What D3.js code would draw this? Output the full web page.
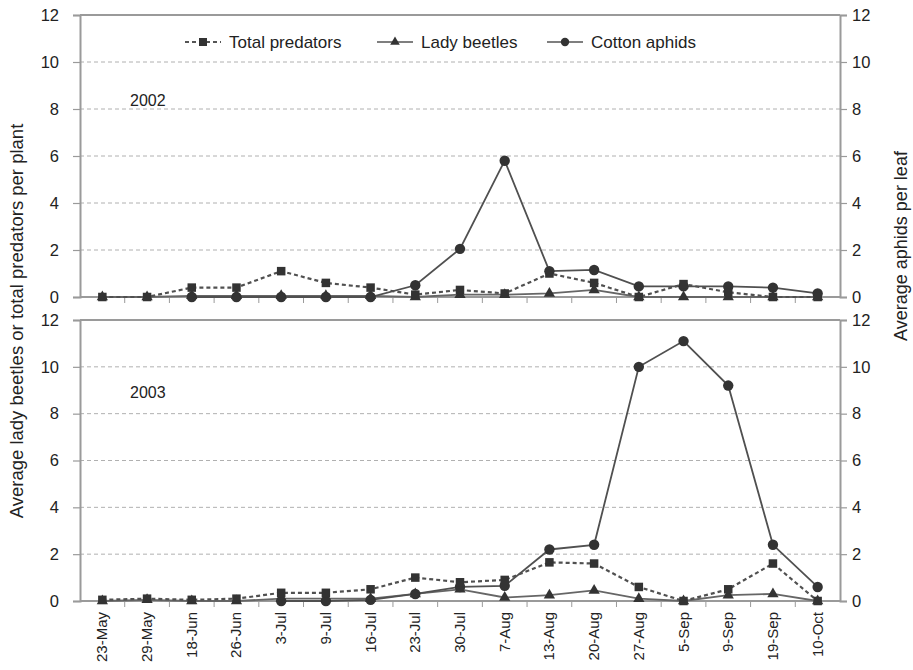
<!DOCTYPE html>
<html><head><meta charset="utf-8">
<script src="https://cdn.jsdelivr.net/npm/d3@7"></script>
<style>
body{margin:0;background:#fff;}
svg text{font-family:"Liberation Sans",Arial,sans-serif;fill:#222;}
</style></head>
<body><svg id="c" width="913" height="670"></svg>
<script>
const categories = ["23-May","29-May","18-Jun","26-Jun","3-Jul","9-Jul","16-Jul","23-Jul","30-Jul","7-Aug","13-Aug","20-Aug","27-Aug","5-Sep","9-Sep","19-Sep","10-Oct"];
const yTicks = [0,2,4,6,8,10,12];
const seriesNames = ["Total predators","Lady beetles","Cotton aphids"];
const predators2002 = [0,0,0.4,0.4,1.1,0.6,0.4,0.1,0.3,0.15,1.0,0.6,0,0.55,0.2,0,0];
const beetles2002   = [0,0,0.05,0.05,0.05,0.05,0.05,0,0.1,0.1,0.15,0.3,0,0,0,0,0];
const aphids2002    = [null,null,0,0,0,0,0,0.5,2.05,5.8,1.1,1.15,0.45,0.45,0.45,0.4,0.15];
const predators2003 = [0.05,0.1,0.05,0.1,0.35,0.35,0.5,1.0,0.8,0.9,1.65,1.6,0.6,0,0.5,1.6,0];
const beetles2003   = [0,0.05,0,0,0.1,0.1,0.1,0.3,0.5,0.15,0.25,0.45,0.1,0,0.25,0.3,0];
const aphids2003    = [null,null,null,null,0,0,0.05,0.3,0.6,0.65,2.2,2.4,10.0,11.1,9.2,2.4,0.6];

const svg = d3.select("#c");
const X0 = 80, X1 = 840;
const x = d3.scalePoint().domain(categories).range([X0, X1]).padding(0.5);
const step = x.step();
const axisCol = "#9a9a9a";

const panels = [
  {label:"2002", top:15, bottom:297, labelY:106, pred:predators2002, beet:beetles2002, aph:aphids2002},
  {label:"2003", top:320, bottom:601, labelY:398, pred:predators2003, beet:beetles2003, aph:aphids2003}
];

function markerSquare(g, px, py, s){ g.append("rect").attr("x",px-s/2).attr("y",py-s/2).attr("width",s).attr("height",s).attr("fill","#333"); }
function markerTri(g, px, py, s){ g.append("path").attr("d",d3.symbol(d3.symbolTriangle, s).call(null)).attr("transform",`translate(${px},${py})`).attr("fill","#333"); }
function markerCircle(g, px, py, r){ g.append("circle").attr("cx",px).attr("cy",py).attr("r",r).attr("fill","#333"); }

panels.forEach(p => {
  const y = d3.scaleLinear().domain([0,12]).range([p.bottom, p.top]);
  const g = svg.append("g");
  g.selectAll(".grid").data(yTicks.filter(t=>t>0&&t<12)).enter().append("line")
    .attr("x1",X0).attr("x2",X1).attr("y1",d=>y(d)).attr("y2",d=>y(d))
    .attr("stroke","#b0b0b0").attr("stroke-width",1).attr("stroke-dasharray","4,3");
  g.append("line").attr("x1",X0).attr("x2",X1).attr("y1",y(12)).attr("y2",y(12)).attr("stroke",axisCol).attr("stroke-width",2);
  const la = d3.axisLeft(y).tickValues(yTicks).tickSize(7).tickPadding(14);
  const lg = g.append("g").attr("transform",`translate(${X0},0)`).call(la);
  lg.select(".domain").attr("stroke",axisCol).attr("stroke-width",2);
  lg.selectAll(".tick line").attr("stroke",axisCol).attr("stroke-width",1.2);
  lg.selectAll(".tick text").attr("font-size",16.5).attr("fill","#222").attr("font-family","Liberation Sans, Arial, sans-serif");
  const ra = d3.axisRight(y).tickValues(yTicks).tickSize(7).tickPadding(5);
  const rg = g.append("g").attr("transform",`translate(${X1},0)`).call(ra);
  rg.select(".domain").attr("stroke",axisCol).attr("stroke-width",2);
  rg.selectAll(".tick line").attr("stroke",axisCol).attr("stroke-width",1.2);
  rg.selectAll(".tick text").attr("font-size",16.5).attr("fill","#222").attr("font-family","Liberation Sans, Arial, sans-serif");
  g.append("line").attr("x1",X0).attr("x2",X1).attr("y1",y(0)).attr("y2",y(0)).attr("stroke",axisCol).attr("stroke-width",2);
  g.selectAll(".bt").data(d3.range(1,categories.length)).enter().append("line")
    .attr("x1",i=>X0+i*step).attr("x2",i=>X0+i*step).attr("y1",y(0)).attr("y2",y(0)+6)
    .attr("stroke",axisCol).attr("stroke-width",1);
  g.append("text").attr("x",130).attr("y",p.labelY).attr("font-size",16).text(p.label);

  const mk = arr => arr.map((v,i)=>({c:categories[i], v})).filter(d=>d.v!==null);
  const line = d3.line().x(d=>x(d.c)).y(d=>y(d.v));
  const dPred = mk(p.pred), dBeet = mk(p.beet), dAph = mk(p.aph);
  g.append("path").datum(dBeet).attr("d",line).attr("fill","none").attr("stroke","#666").attr("stroke-width",1.8);
  g.append("path").datum(dAph).attr("d",line).attr("fill","none").attr("stroke","#505050").attr("stroke-width",1.8);
  g.append("path").datum(dPred).attr("d",line).attr("fill","none").attr("stroke","#505050").attr("stroke-width",2.2).attr("stroke-dasharray","4,3");
  dAph.forEach(d=>markerCircle(g,x(d.c),y(d.v),5.2));
  dBeet.forEach(d=>markerTri(g,x(d.c),y(d.v),55));
  dPred.forEach(d=>markerSquare(g,x(d.c),y(d.v),8.5));
});

const xl = svg.append("g");
categories.forEach(c=>{
  xl.append("text").attr("transform",`translate(${x(c)+5},612) rotate(-90)`).attr("text-anchor","end")
    .attr("font-size",15).text(c);
});

svg.append("text").attr("transform","translate(23,321) rotate(-90)").attr("text-anchor","middle").attr("font-size",18.5)
  .text("Average lady beetles or total predators per plant");
svg.append("text").attr("transform","translate(907,246) rotate(-90)").attr("text-anchor","middle").attr("font-size",18)
  .text("Average aphids per leaf");

const lgd = svg.append("g");
const ly = 42;
const items = [
  {x:185, w:170, name:seriesNames[0], dash:"4,3", m:"sq"},
  {x:377, w:150, name:seriesNames[1], dash:null, m:"tri"},
  {x:547, w:150, name:seriesNames[2], dash:null, m:"cir"}
];
items.forEach(it=>{
  lgd.append("rect").attr("x",it.x-4).attr("y",ly-11).attr("width",it.w).attr("height",22).attr("fill","#fff");
  const l = lgd.append("line").attr("x1",it.x).attr("x2",it.x+36).attr("y1",ly).attr("y2",ly)
    .attr("stroke","#555").attr("stroke-width",it.dash?2:1.6);
  if(it.dash) l.attr("stroke-dasharray",it.dash);
  if(it.m==="sq") markerSquare(lgd,it.x+18,ly,8);
  if(it.m==="tri") markerTri(lgd,it.x+18,ly,40);
  if(it.m==="cir") markerCircle(lgd,it.x+18,ly,4.2);
  lgd.append("text").attr("x",it.x+44).attr("y",ly+6).attr("font-size",17).text(it.name);
});
</script></body></html>
